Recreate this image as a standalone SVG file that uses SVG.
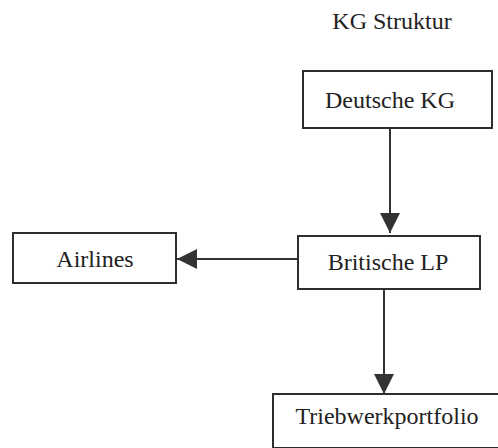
<svg xmlns="http://www.w3.org/2000/svg" width="498" height="448" viewBox="0 0 498 448">
<defs>
<style>
.box{fill:#fff;stroke:#2e2e2e;stroke-width:2}
.lbl{font-family:"Liberation Serif","Times New Roman",serif;font-size:24px;fill:#222;text-anchor:middle}
.edge{stroke:#333;stroke-width:2;fill:none}
</style>
<marker id="ah" markerWidth="20" markerHeight="20" viewBox="0 0 20 20" refX="20" refY="10" orient="auto" markerUnits="userSpaceOnUse">
<path d="M0,0 L20,10 L0,20 Z" fill="#333"/>
</marker>
</defs>
<rect width="498" height="448" fill="#fff"/>
<text class="lbl" x="392" y="29">KG Struktur</text>
<g id="connectors">
<line class="edge" x1="390" y1="128" x2="390" y2="233" marker-end="url(#ah)"/>
<line class="edge" x1="298" y1="259" x2="177" y2="259" marker-end="url(#ah)"/>
<line class="edge" x1="384" y1="289" x2="384" y2="394" marker-end="url(#ah)"/>
</g>
<g id="deutsche-kg">
<rect class="box" x="303" y="71" width="189" height="57"/>
<text class="lbl" x="390" y="108">Deutsche KG</text>
</g>
<g id="airlines">
<rect class="box" x="13" y="233" width="163" height="50"/>
<text class="lbl" x="95" y="267">Airlines</text>
</g>
<g id="britische-lp">
<rect class="box" x="298" y="236" width="182" height="53"/>
<text class="lbl" x="388" y="270">Britische LP</text>
</g>
<g id="triebwerkportfolio">
<rect class="box" x="273" y="394" width="240" height="54"/>
<text class="lbl" x="387" y="424">Triebwerkportfolio</text>
</g>
</svg>
